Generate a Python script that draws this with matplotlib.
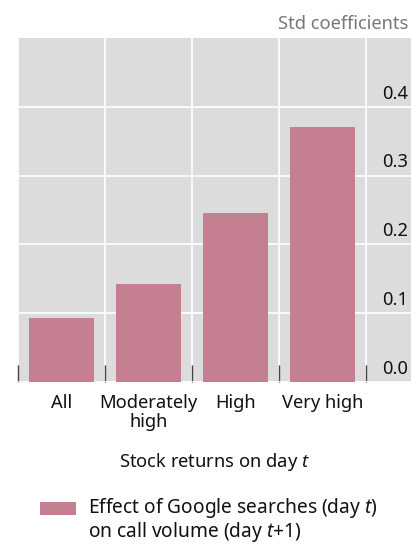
import matplotlib
matplotlib.use("Agg")
import matplotlib.pyplot as plt
import matplotlib.transforms as mtransforms
from matplotlib.patches import Rectangle

categories = ["All", "Moderately\nhigh", "High", "Very high"]
values = [0.093, 0.143, 0.245, 0.370]
yticks = [0.0, 0.1, 0.2, 0.3, 0.4]
ytick_labels = ["0.0", "0.1", "0.2", "0.3", "0.4"]
unit_label = "Std coefficients"
xlabel = "Stock returns on day $\\mathit{t}$"
legend_label = "Effect of Google searches (day $\\mathit{t}$)\non call volume (day $\\mathit{t}$+1)"

plt.rcParams['font.family'] = ['Noto Sans', 'DejaVu Sans']
plt.rcParams['mathtext.fontset'] = 'custom'
plt.rcParams['mathtext.it'] = 'Noto Sans:italic'
plt.rcParams['mathtext.rm'] = 'Noto Sans'

BAR = "#c48090"
BG = "#dcdcdc"
FS = 13.2
TXT = "#111111"

fig = plt.figure(figsize=(4.11, 5.45), dpi=100)
W, H = 411, 545
ax = fig.add_axes([18 / W, (H - 382) / H, (411 - 18) / W, (382 - 38) / H])
ax.set_facecolor(BG)
for s in ax.spines.values():
    s.set_visible(False)

x = list(range(len(categories)))
ax.bar(x, values, width=0.74, color=BAR, zorder=3)

ax.set_xlim(-0.5, 3.5 + 45 / 87)
ax.set_ylim(0, 0.5)

# column boundaries as major ticks (grid + inward tick marks)
ax.set_xticks([i - 0.5 for i in range(len(categories) + 1)])
ax.set_xticklabels([])
ax.tick_params(axis='x', which='major', direction='in', length=12, width=1.0,
               color="#444444", bottom=True)
ax.set_xticks(x, minor=True)
ax.set_xticklabels(categories, minor=True, fontsize=FS, linespacing=1.05,
                   color=TXT)
ax.tick_params(axis='x', which='minor', length=0, pad=9)

ax.set_yticks(yticks)
ax.set_yticklabels([])
ax.tick_params(axis='y', length=0)
ax.grid(True, which='major', color='white', linewidth=1.2, zorder=1)
ax.set_axisbelow(True)

trans = mtransforms.blended_transform_factory(ax.transAxes, ax.transData)
for v, lab in zip(yticks, ytick_labels):
    ax.text(0.993, v + 0.006, lab, transform=trans, ha='right', va='bottom',
            fontsize=FS, color=TXT)

ax.set_xlabel(xlabel, fontsize=FS, color=TXT)
ax.xaxis.set_label_coords(0.5, -(462 - 382) / (382 - 38))
ax.xaxis.label.set_va('center')

fig.text(408 / W, 1 - 24 / H, unit_label, ha='right', va='center',
         fontsize=FS, color="#777777")

# legend drawn manually: swatch aligned with first line of the label
fig.patches.append(Rectangle((40 / W, 1 - 515 / H), 36 / W, 13 / H,
                             transform=fig.transFigure, facecolor=BAR,
                             edgecolor='none'))
fig.text(88 / W, 1 - 496 / H, legend_label, ha='left', va='top',
         fontsize=13.8, color=TXT, linespacing=1.0)

fig.savefig("out.png", dpi=100)
